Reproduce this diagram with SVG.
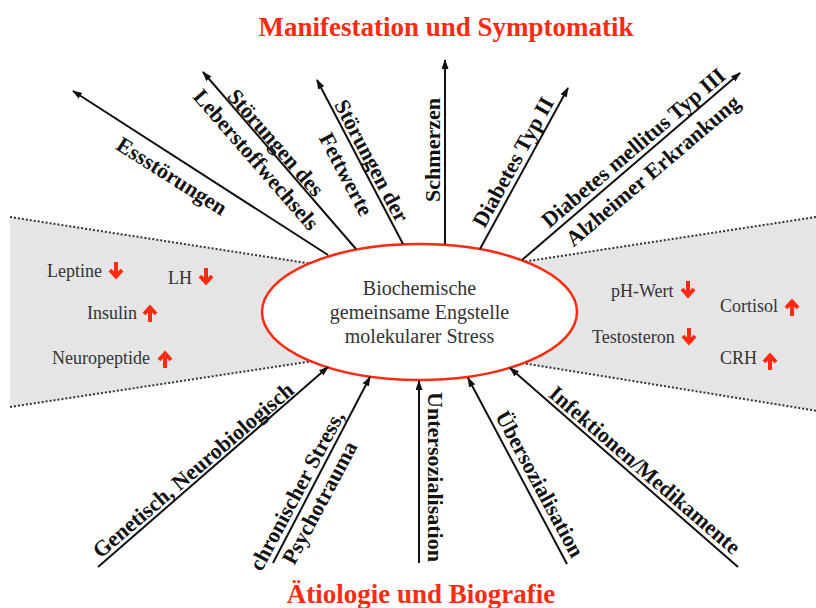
<svg xmlns="http://www.w3.org/2000/svg" width="816" height="608" viewBox="0 0 816 608">
<defs>
<style>
.title{font-family:"Liberation Serif","Times New Roman",serif;font-weight:bold;font-size:27px;fill:#ff2a12;text-anchor:middle}
.lbl{font-family:"Liberation Serif","Times New Roman",serif;font-weight:bold;font-size:22px;fill:#111;text-anchor:middle}
.item{font-family:"Liberation Serif","Times New Roman",serif;font-size:18px;fill:#333}
.ctext{font-family:"Liberation Serif","Times New Roman",serif;font-size:20px;fill:#333;text-anchor:middle}
.zone{fill:#e5e5e5;stroke:none}
.dots{stroke:#333;stroke-width:2;stroke-dasharray:2 2;fill:none}
.conn{stroke:#111;stroke-width:2;fill:none;marker-end:url(#ah)}
.ra{stroke:#ff2a12;stroke-width:4;fill:none;stroke-linejoin:miter}
</style>
<marker id="ah" markerUnits="userSpaceOnUse" markerWidth="10" markerHeight="8" refX="9" refY="3.5" orient="auto">
<path d="M0,0 L10,3.5 L0,7 z" fill="#111"/>
</marker>
<g id="down"><path class="ra" d="M0,-8 V6 M-6,0 L0,6.5 L6,0"/></g>
<g id="up"><path class="ra" d="M0,8 V-6 M-6,0 L0,-6.5 L6,0"/></g>
</defs>
<rect width="816" height="608" fill="#fff"/>

<g id="zone-left">
<polygon class="zone" points="10,217 330,266.6 330,358.5 10,407"/>
<line class="dots" x1="10" y1="217" x2="330" y2="266.6"/>
<line class="dots" x1="10" y1="407" x2="330" y2="358.5"/>
</g>
<g id="zone-right">
<polygon class="zone" points="816,217 510,263.8 510,361.1 816,410.7"/>
<line class="dots" x1="816" y1="217" x2="510" y2="263.8"/>
<line class="dots" x1="816" y1="410.7" x2="510" y2="361.1"/>
</g>

<g id="center">
<ellipse cx="419.5" cy="312" rx="157.5" ry="68" fill="#fff" stroke="#ff2a12" stroke-width="2.5"/>
<text class="ctext" x="419.5" y="295">Biochemische</text>
<text class="ctext" x="419.5" y="319">gemeinsame Engstelle</text>
<text class="ctext" x="419.5" y="343">molekularer Stress</text>
</g>

<g id="connectors">
<line class="conn" x1="328" y1="255" x2="73" y2="91"/>
<line class="conn" x1="356" y1="249" x2="203" y2="72"/>
<line class="conn" x1="403" y1="244" x2="317" y2="80"/>
<line class="conn" x1="445" y1="244" x2="445" y2="60"/>
<line class="conn" x1="480" y1="249" x2="568" y2="88"/>
<line class="conn" x1="522" y1="260" x2="740" y2="73"/>
<line class="conn" x1="98" y1="567" x2="328" y2="367"/>
<line class="conn" x1="273" y1="563" x2="370" y2="377"/>
<line class="conn" x1="419" y1="563" x2="419" y2="381"/>
<line class="conn" x1="567" y1="564" x2="468" y2="378"/>
<line class="conn" x1="738" y1="567" x2="510" y2="368"/>
</g>

<g id="title-top"><text class="title" x="446" y="36">Manifestation und Symptomatik</text></g>
<g id="title-bottom"><text class="title" x="421" y="603">Ätiologie und Biografie</text></g>

<g id="n-ess"><text class="lbl" transform="translate(172,176) rotate(32.4)" y="7.5">Essstörungen</text></g>
<g id="n-leber" transform="translate(266,151) rotate(49)">
<text class="lbl" y="-5.5">Störungen des</text>
<text class="lbl" y="20.5">Leberstoffwechsels</text>
</g>
<g id="n-fett" transform="translate(359,167.5) rotate(62.2)">
<text class="lbl" y="-7">Störungen der</text>
<text class="lbl" y="22">Fettwerte</text>
</g>
<g id="n-schmerz"><text class="lbl" transform="translate(432,150) rotate(-90)" y="7.5">Schmerzen</text></g>
<g id="n-diab2"><text class="lbl" transform="translate(513,162) rotate(-61)" y="7.5">Diabetes Typ II</text></g>
<g id="n-diab3" transform="translate(643,159) rotate(-40.3)">
<text class="lbl" y="-7.5">Diabetes mellitus Typ III</text>
<text class="lbl" y="22.5">Alzheimer Erkrankung</text>
</g>

<g id="n-genetisch"><text class="lbl" transform="translate(193,470) rotate(-40.6)" y="7.5">Genetisch, Neurobiologisch</text></g>
<g id="n-chron" transform="translate(308,496.5) rotate(-62)">
<text class="lbl" y="-5.5">chronischer Stress,</text>
<text class="lbl" y="20.5">Psychotrauma</text>
</g>
<g id="n-unter"><text class="lbl" transform="translate(435,477) rotate(90)" y="7.5">Untersozialisation</text></g>
<g id="n-ueber"><text class="lbl" transform="translate(540,484) rotate(61.7)" y="7.5">Übersozialisation</text></g>
<g id="n-infekt"><text class="lbl" transform="translate(645,470) rotate(40.8)" y="7.5">Infektionen/Medikamente</text></g>

<g id="i-leptine"><text class="item" x="47" y="277">Leptine</text><use href="#down" x="116" y="270"/></g>
<g id="i-lh"><text class="item" x="168" y="284">LH</text><use href="#down" x="206" y="276"/></g>
<g id="i-insulin"><text class="item" x="87" y="319">Insulin</text><use href="#up" x="150" y="314"/></g>
<g id="i-neuro"><text class="item" x="52" y="364">Neuropeptide</text><use href="#up" x="165" y="360"/></g>
<g id="i-ph"><text class="item" x="611" y="297">pH-Wert</text><use href="#down" x="688" y="289"/></g>
<g id="i-testo"><text class="item" x="592" y="343">Testosteron</text><use href="#down" x="689" y="336"/></g>
<g id="i-cortisol"><text class="item" x="720" y="312">Cortisol</text><use href="#up" x="792" y="308"/></g>
<g id="i-crh"><text class="item" x="720" y="364">CRH</text><use href="#up" x="770" y="362"/></g>
</svg>
